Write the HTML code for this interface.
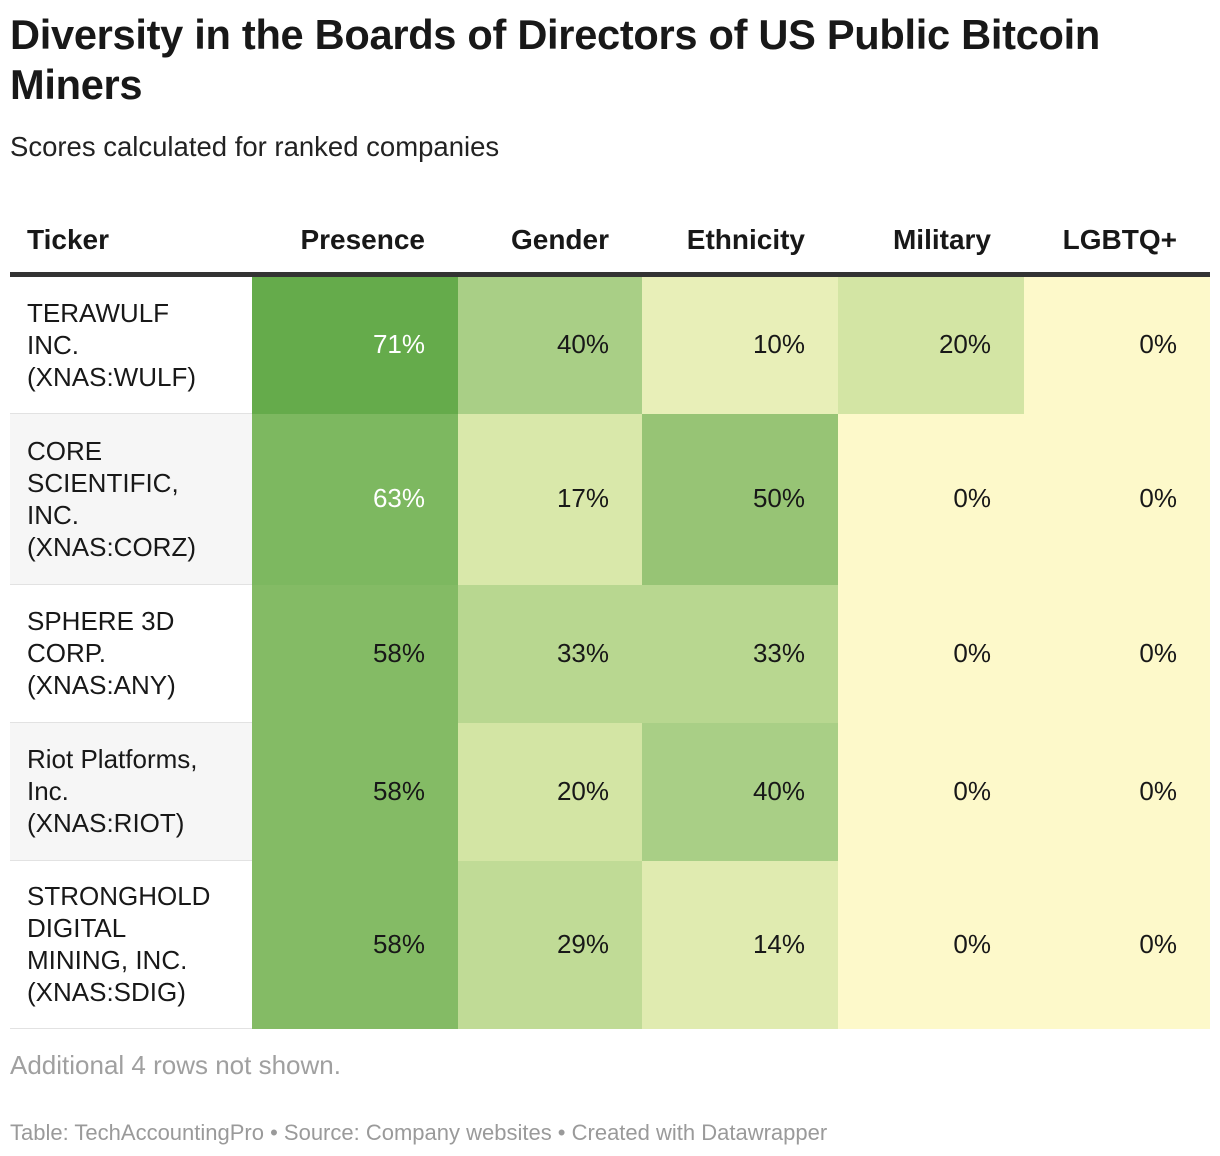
<!DOCTYPE html>
<html><head><meta charset="utf-8"><style>
body{margin:0;width:1220px;height:1156px;background:#fff;font-family:"Liberation Sans",Arial,sans-serif;color:#181818;position:relative;overflow:hidden}
h1{position:absolute;left:10px;top:10px;margin:0;font-size:41.6px;line-height:50px;font-weight:bold;width:1200px;letter-spacing:-0.3px}
.sub{position:absolute;left:10px;top:131px;font-size:27.5px;color:#222}
table{position:absolute;left:10px;top:213px;border-collapse:collapse;width:1200px;font-size:26px;table-layout:fixed}
th{height:61px;text-align:right;padding:0 33px 4px 0;font-size:28px;border-bottom:5px solid #333;vertical-align:middle;box-sizing:border-box}
th.t{text-align:left;padding-left:17px}
td{text-align:right;padding:0 33px 0 0;border-bottom:1px solid #e2e2e2}
td.t{text-align:left;padding-left:17px;line-height:32px}
.foot1{position:absolute;left:10px;top:1050px;font-size:26px;color:#a0a0a0}
.foot2{position:absolute;left:10px;top:1120px;font-size:22px;color:#9a9a9a}
</style></head><body>
<h1>Diversity in the Boards of Directors of US Public Bitcoin Miners</h1>
<div class="sub">Scores calculated for ranked companies</div>
<table><colgroup id="cg"></colgroup><thead><tr id="hr"></tr></thead><tbody id="tb"></tbody></table>
<div class="foot1">Additional 4 rows not shown.</div>
<div class="foot2">Table: TechAccountingPro • Source: Company websites • Created with Datawrapper</div>
<script>
const columns=["Ticker","Presence","Gender","Ethnicity","Military","LGBTQ+"];
const tickers=["TERAWULF<br>INC.<br>(XNAS:WULF)","CORE<br>SCIENTIFIC,<br>INC.<br>(XNAS:CORZ)","SPHERE 3D<br>CORP.<br>(XNAS:ANY)","Riot Platforms,<br>Inc.<br>(XNAS:RIOT)","STRONGHOLD<br>DIGITAL<br>MINING, INC.<br>(XNAS:SDIG)"];
const presence=[71,63,58,58,58];
const gender=[40,17,33,20,29];
const ethnicity=[10,50,33,40,14];
const military=[20,0,0,0,0];
const lgbtq=[0,0,0,0,0];
const series=[presence,gender,ethnicity,military,lgbtq];
const widths=[242,206,184,196,186,186];
const heights=[139,171,138,138,168];
const stops=[[0,[253,249,202]],[10,[232,239,184]],[20,[211,229,164]],[33,[184,215,144]],[40,[169,207,134]],[50,[151,196,117]],[58,[132,187,101]],[63,[125,184,96]],[71,[101,171,75]]];
function col(v){for(let i=1;i<stops.length;i++){if(v<=stops[i][0]){const a=stops[i-1],b=stops[i],t=(v-a[0])/(b[0]-a[0]);return 'rgb('+a[1].map((c,k)=>Math.round(c+(b[1][k]-c)*t)).join(',')+')';}}return 'rgb(101,171,75)';}
const cg=document.getElementById('cg');
widths.forEach(w=>{const c=document.createElement('col');c.style.width=w+'px';cg.appendChild(c);});
const hr=document.getElementById('hr');
columns.forEach((c,i)=>{const th=document.createElement('th');th.innerHTML=c;if(i==0)th.className='t';

hr.appendChild(th);});
const tb=document.getElementById('tb');
tickers.forEach((tk,r)=>{const tr=document.createElement('tr');tr.style.height=heights[r]+'px';


const td=document.createElement('td');td.className='t';td.innerHTML=tk;if(r%2)td.style.background='#f6f6f6';

tr.appendChild(td);
series.forEach((s,j)=>{const c=document.createElement('td');const v=s[r];c.textContent=v+'%';c.style.background=col(v);c.style.borderBottomColor=col(v);if(v>=60)c.style.color='#fff';

tr.appendChild(c);});
tb.appendChild(tr);});
</script>
</body></html>
